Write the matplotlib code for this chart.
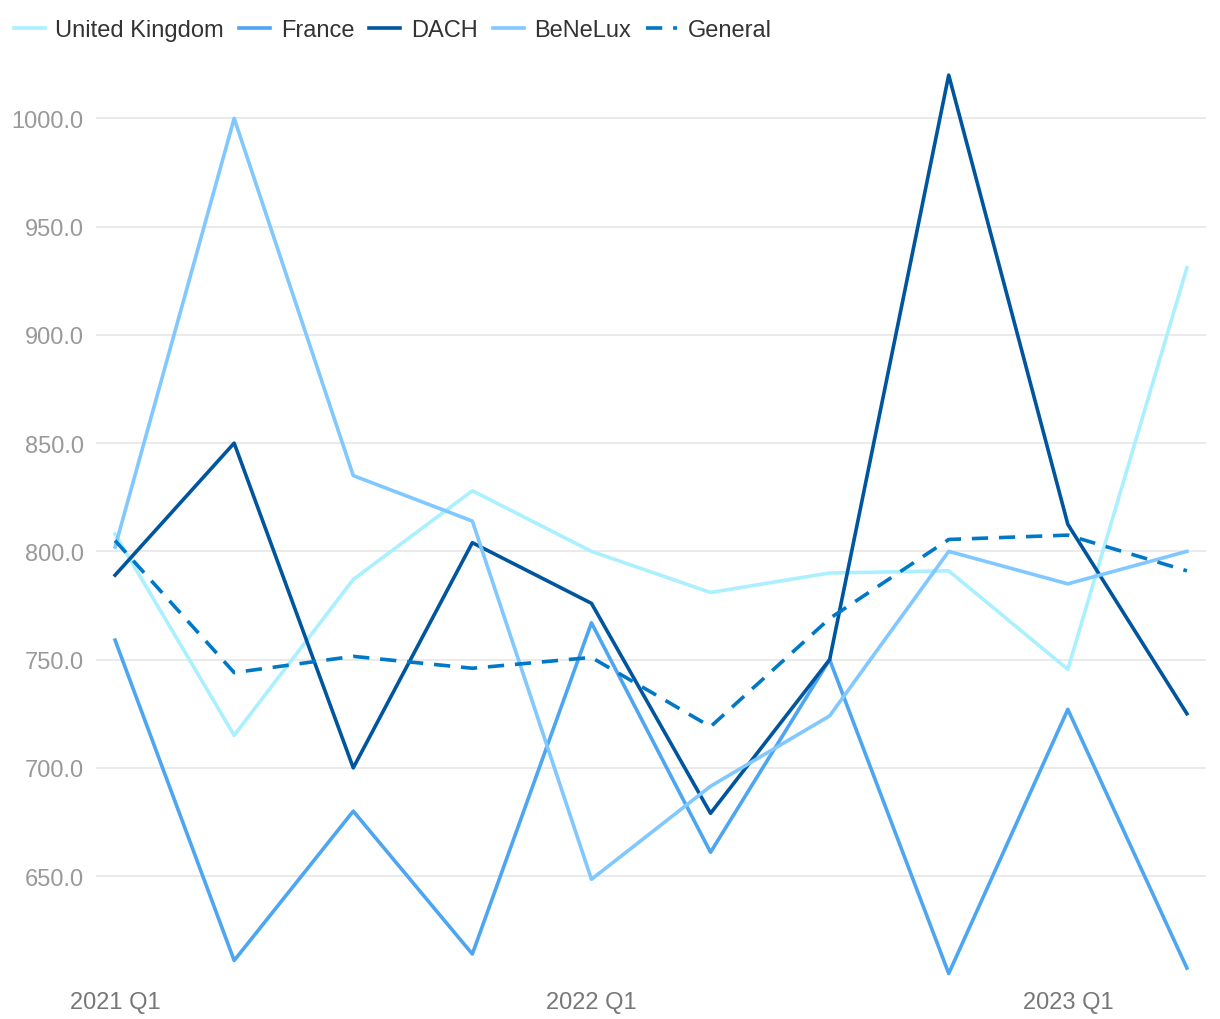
import matplotlib
matplotlib.use("Agg")
import matplotlib.pyplot as plt
import numpy as np

plt.rcParams['font.family'] = ['Liberation Sans', 'DejaVu Sans']

quarters = ["2021 Q1", "2021 Q2", "2021 Q3", "2021 Q4", "2022 Q1",
            "2022 Q2", "2022 Q3", "2022 Q4", "2023 Q1", "2023 Q2"]
uk = [808, 715, 787, 828, 800, 781, 790, 791, 745.5, 931]
france = [759, 611, 680, 614, 767, 661, 750, 605, 727, 607.5]
dach = [789, 850, 700, 804, 776, 679, 750, 1020, 812.5, 725]
benelux = [802, 1000, 835, 814, 648.5, 691.5, 724, 800, 785, 800]
general = [805, 744, 751.5, 746, 751, 719, 769, 805.5, 807.5, 791]

series = [
    ("United Kingdom", uk, "#aaf0ff", "-"),
    ("France", france, "#4da6f2", "-"),
    ("DACH", dach, "#00569e", "-"),
    ("BeNeLux", benelux, "#80c8ff", "-"),
    ("General", general, "#0078c6", "--"),
]

fig = plt.figure(figsize=(12.2, 10.2), dpi=100)
ax = fig.add_axes([0.0787, 0.034, 0.9098, 0.902])

x = np.arange(len(quarters))
for name, vals, color, ls in series:
    ax.plot(x, vals, color=color, linestyle=ls, linewidth=2.6, label=name,
            dashes=(4.5, 3) if ls == "--" else (None, None))

ax.set_xlim(-0.16, 9.16)
ax.set_ylim(600, 1025)
ax.set_yticks([650, 700, 750, 800, 850, 900, 950, 1000])
ax.set_yticklabels(["%.1f" % v for v in ax.get_yticks()])
ax.set_xticks([0, 4, 8])
ax.set_xticklabels([quarters[0], quarters[4], quarters[8]])

ax.grid(axis="y", color="#e6e6e6", linewidth=1.2)
ax.set_axisbelow(True)
for s in ax.spines.values():
    s.set_visible(False)
ax.tick_params(axis="y", length=0, pad=9, labelsize=17, labelcolor="#999999")
ax.tick_params(axis="x", length=0, pad=5, labelsize=17, labelcolor="#777777")

ax.legend(loc="upper left", bbox_to_anchor=(-0.093, 1.072), ncol=5, frameon=False,
          fontsize=17, handlelength=1.3, handletextpad=0.45, columnspacing=0.65,
          labelcolor="#333333")

fig.savefig("out.png", dpi=100)
